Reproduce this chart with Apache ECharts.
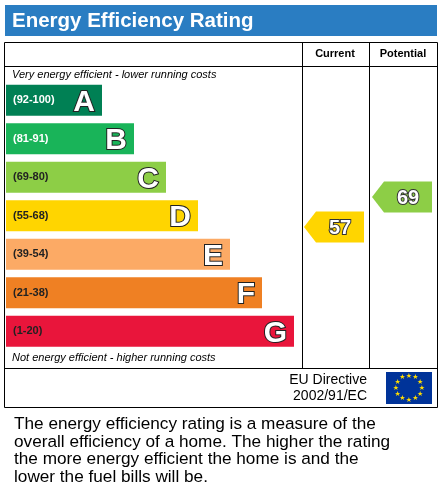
<!DOCTYPE html>
<html><head><meta charset="utf-8">
<script src="https://cdn.jsdelivr.net/npm/echarts@6/dist/echarts.min.js"></script>
<style>html,body{margin:0;padding:0;background:#fff}#c{width:442px;height:486px}</style>
</head><body><div id="c"></div>
<script>
const bands = ['A','B','C','D','E','F','G'];
const ranges = ['(92-100)','(81-91)','(69-80)','(55-68)','(39-54)','(21-38)','(1-20)'];
const bandEnds = [96,128,160,192,224,256,288];
const bandColors = ['#008054','#19b459','#8dce46','#ffd500','#fcaa65','#ef8023','#e9153b'];
const rangeTextColors = ['#fff','#fff','#222','#222','#222','#222','#222'];
const currentRating = {value:57, color:'#ffd500'};
const potentialRating = {value:69, color:'#8dce46'};
const arrowStart = {current:298, potential:366};
const arrowLen = 60;
const ratingScale = {min:7.6, max:115.4};

const chart = echarts.init(document.getElementById('c'), null, {renderer:'canvas'});
function arrowSeries(r, x){
  return {type:'custom', coordinateSystem:'cartesian2d', xAxisIndex:0, yAxisIndex:1, data:[[x, r.value]],
    renderItem:function(params, api){
      const p = api.coord([api.value(0), api.value(1)]);
      const p2 = api.coord([api.value(0)+arrowLen, api.value(1)]);
      const h = 31, tip = 12;
      return {type:'group', children:[
        {type:'polygon', shape:{points:[[p[0],p[1]],[p[0]+tip,p[1]-h/2],[p2[0],p[1]-h/2],[p2[0],p[1]+h/2],[p[0]+tip,p[1]+h/2]]}, style:{fill:r.color}},
        {type:'text', style:{text:String(api.value(1)), x:(p[0]+p2[0])/2+6, y:p[1]+1, align:'center', verticalAlign:'middle', font:'bold 20px Arial, Liberation Sans', fill:'#fff', stroke:'#333', lineWidth:2}}
      ]};
    }};
}
const stars=[];
for(let i=0;i<12;i++){const a=i*Math.PI/6;stars.push({type:'text',style:{text:'★',x:409+13*Math.cos(a),y:388+12*Math.sin(a),align:'center',verticalAlign:'middle',font:'7px DejaVu Sans',fill:'#ffdd00'}});}
chart.setOption({
  animation:false,
  grid:{left:6, top:81, width:431, height:269.5},
  xAxis:{type:'value', min:0, max:431, show:false},
  yAxis:[{type:'category', data:bands, inverse:true, axisLine:{show:false}, axisTick:{show:false}, splitLine:{show:false},
    axisLabel:{inside:true, margin:7, formatter:(v,i)=>ranges[i], fontSize:11, fontWeight:'bold', fontFamily:'Arial, Liberation Sans',
      color:(v,i)=>rangeTextColors[bands.indexOf(v)]}, z:10},
    {type:'value', min:ratingScale.min, max:ratingScale.max, show:false}],
  series:[
    {type:'bar', barWidth:31, z:2, data:bandEnds.map((v,i)=>({value:v, itemStyle:{color:bandColors[i]}})),
     label:{show:true, position:'insideRight', offset:[-2,2], formatter:p=>bands[p.dataIndex], fontSize:30, fontWeight:'bold', fontFamily:'Arial, Liberation Sans', color:'#fff', textBorderColor:'#222', textBorderWidth:2}},
    arrowSeries(currentRating, arrowStart.current),
    arrowSeries(potentialRating, arrowStart.potential)
  ],
  graphic:[
    {type:'rect', shape:{x:5,y:5,width:432,height:31}, style:{fill:'#2a7dc2'}},
    {type:'text', style:{text:'Energy Efficiency Rating', x:12, y:21, verticalAlign:'middle', font:'bold 20.5px Arial, Liberation Sans', fill:'#fff'}},
    {type:'rect', shape:{x:4.5,y:42.5,width:433,height:365}, style:{fill:'none', stroke:'#000', lineWidth:1}},
    {type:'line', shape:{x1:302.5,y1:42,x2:302.5,y2:368}, style:{stroke:'#000'}},
    {type:'line', shape:{x1:369.5,y1:42,x2:369.5,y2:368}, style:{stroke:'#000'}},
    {type:'line', shape:{x1:4,y1:66.5,x2:437,y2:66.5}, style:{stroke:'#000'}},
    {type:'line', shape:{x1:4,y1:368.5,x2:437,y2:368.5}, style:{stroke:'#000'}},
    {type:'text', style:{text:'Current', x:335, y:54, align:'center', verticalAlign:'middle', font:'bold 11px Arial, Liberation Sans', fill:'#000'}},
    {type:'text', style:{text:'Potential', x:403, y:54, align:'center', verticalAlign:'middle', font:'bold 11px Arial, Liberation Sans', fill:'#000'}},
    {type:'text', style:{text:'Very energy efficient - lower running costs', x:12, y:75, verticalAlign:'middle', font:'italic 11px Arial, Liberation Sans', fill:'#000'}},
    {type:'text', style:{text:'Not energy efficient - higher running costs', x:12, y:358, verticalAlign:'middle', font:'italic 11px Arial, Liberation Sans', fill:'#000'}},
    {type:'text', style:{text:'EU Directive\n2002/91/EC', x:367, y:388, align:'right', verticalAlign:'middle', lineHeight:16, font:'14px Arial, Liberation Sans', fill:'#000'}},
    {type:'rect', shape:{x:386,y:372,width:46,height:32}, style:{fill:'#003399'}},
    ...stars,
    {type:'text', style:{text:'The energy efficiency rating is a measure of the\noverall efficiency of a home. The higher the rating\nthe more energy efficient the home is and the\nlower the fuel bills will be.', x:14, y:416, lineHeight:17.5, font:'17.2px Arial, Liberation Sans', fill:'#000'}}
  ]
});
</script></body></html>
